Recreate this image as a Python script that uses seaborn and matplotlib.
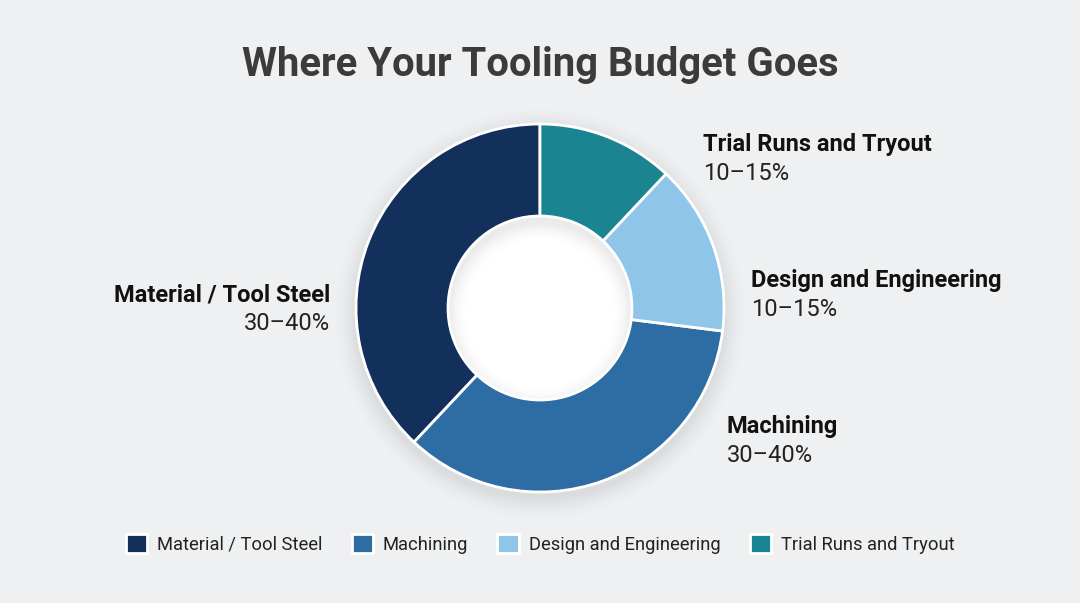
import numpy as np
import matplotlib.pyplot as plt
import seaborn as sns
from matplotlib.patches import Circle, Wedge

# data
categories = ['Material / Tool Steel', 'Machining', 'Design and Engineering', 'Trial Runs and Tryout']
shares = [38, 35, 15, 12]
ranges = ['30–40%', '30–40%', '10–15%', '10–15%']
colors = ['#13305c', '#2e6da4', '#8ec5e8', '#1a8590']

sns.set_theme(style='white')
plt.rcParams['font.family'] = ['Roboto', 'DejaVu Sans']

bg = '#eff0f1'
fig = plt.figure(figsize=(10.8, 6.03), dpi=100, facecolor=bg)
ax = fig.add_axes([0, 0, 1, 1])
ax.set_facecolor(bg)

cx, cy, R = 540, 295, 184

# soft shadow under the ring
for i, a in enumerate(np.linspace(0.012, 0.004, 10)):
    ax.add_patch(Wedge((cx, cy - 6), R + 2 + i * 2.2, 0, 360, width=R * 0.5 + 4 + i * 4,
                       facecolor='#000000', alpha=a, lw=0))

wedges, _ = ax.pie(shares, colors=colors, startangle=90, counterclock=True,
                   center=(cx, cy), radius=R,
                   wedgeprops=dict(width=R * 0.5, edgecolor='white', linewidth=2))
ax.add_patch(Circle((cx, cy), R * 0.5 - 1, facecolor='white', lw=0, zorder=0.5))

ax.set_xlim(0, 1080)
ax.set_ylim(0, 603)
ax.axis('off')

ax.text(540, 603 - 65, 'Where Your Tooling Budget Goes', ha='center', va='center',
        fontsize=28.8, fontweight='bold', color='#3b3b3b')

# label positions (anchor x, y of the name line, alignment)
label_pos = [(330, 295, 'right'), (727, 426, 'left'), (751, 281, 'left'), (703, 144, 'left')]
for cat, rng, (x, y, ha) in zip(categories, ranges, label_pos):
    ax.text(x, 603 - y, cat, ha=ha, va='center', fontsize=17, fontweight='bold', color='#111111')
    ax.text(x, 603 - y - 29, rng, ha=ha, va='center', fontsize=17, color='#222222')

leg = fig.legend(wedges, categories, loc='center', bbox_to_anchor=(0.5, 1 - 544 / 603),
                 ncol=4, frameon=False, fontsize=13.2, handlelength=1.15, handleheight=1.15,
                 columnspacing=1.6, handletextpad=0.55)
for t in leg.get_texts():
    t.set_color('#222222')

fig.savefig('out.png', dpi=100, facecolor=bg)
